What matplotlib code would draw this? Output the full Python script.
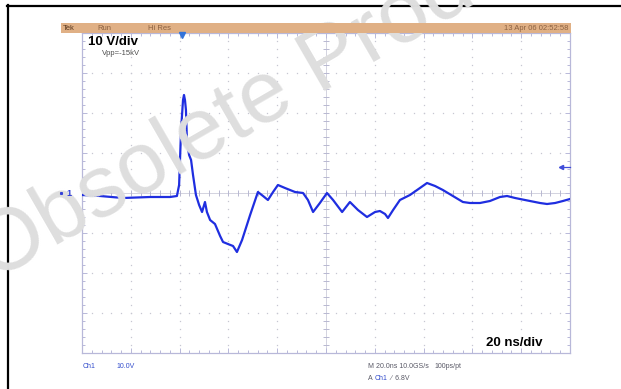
import numpy as np
import matplotlib
matplotlib.use("Agg")
import matplotlib.pyplot as plt
from matplotlib.ticker import MultipleLocator
from matplotlib.lines import Line2D
from matplotlib.patches import Rectangle

# ---- data ----
time_ns = [-100, -92.6, -83.2, -72.1, -63.9, -61.1, -60.2, -59.4, -58.6, -58.2,
           -57.8, -57.4, -57.0, -56.6, -56.1, -55.3, -54.5, -53.3, -52.0, -50.8,
           -49.6, -48.8, -47.5, -45.5, -43.4, -42.2, -40.2, -38.1, -36.5, -34.4,
           -31.1, -27.9, -25.8, -23.8, -21.7, -19.7, -16.8, -12.7, -9.4, -7.4,
           -5.3, -2.5, 0.4, 2.9, 6.6, 9.8, 13.1, 16.8, 20.1, 22.1,
           24.2, 25.4, 27.5, 30.3, 34.4, 38.5, 41.4, 44.7, 47.9, 52.0,
           56.1, 59.0, 63.1, 67.2, 71.3, 74.2, 77.5, 79.5, 83.6, 87.7,
           90.6, 93.9, 97.1, 100]
volts = [-0.5, -0.75, -1.25, -1.0, -1.0, -0.75, 2.0, 15.75, 23.25, 24.5,
         23.25, 20.75, 13.25, 11.25, 9.5, 8.25, 4.5, -0.5, -3.0, -4.75,
         -2.25, -4.75, -6.75, -7.75, -10.75, -12.25, -12.75, -13.25, -14.75, -11.75,
         -5.5, 0.25, -0.75, -1.75, 0.25, 2.0, 1.25, 0.25, 0.0, -1.75,
         -4.75, -2.5, 0.0, -1.75, -4.75, -2.25, -4.25, -6.0, -4.75, -4.5,
         -5.25, -6.25, -4.25, -1.75, -0.5, 1.25, 2.5, 1.75, 0.75, -0.75,
         -2.25, -2.5, -2.5, -2.0, -1.0, -0.75, -1.25, -1.5, -2.0, -2.5,
         -2.75, -2.5, -2.0, -1.5]

header_left = ["Tek", "Run", "Hi Res"]
header_date = "13 Apr 06 02:52:58"
vdiv_label = "10 V/div"
vpp_label = "Vpp=-15kV"
tdiv_label = "20 ns/div"
watermark = "Obsolete Product(s)"

# ---- figure ----
W, H = 621, 389
fig = plt.figure(figsize=(W / 100, H / 100), dpi=100)
fig.patch.set_facecolor("white")
FONT = "Liberation Sans"


def fx(px):
    return px / W


def fy(py):
    return 1 - py / H


# plot area: x 82..570, y 33..353 (pixels)
ax = fig.add_axes([fx(82), fy(353), (570 - 82) / W, (353 - 33) / H])
ax.set_xlim(-100, 100)
ax.set_ylim(-40, 40)
ax.set_facecolor("none")

frame_col = (0.72, 0.72, 0.85)
grid_col = (0.78, 0.78, 0.82)
for s in ax.spines.values():
    s.set_color(frame_col)
    s.set_linewidth(0.9)

ax.xaxis.set_major_locator(MultipleLocator(20))
ax.xaxis.set_minor_locator(MultipleLocator(4))
ax.yaxis.set_major_locator(MultipleLocator(10))
ax.yaxis.set_minor_locator(MultipleLocator(2))
ax.tick_params(which="both", direction="in", top=True, right=True,
               bottom=True, left=True, labelbottom=False, labelleft=False,
               color=frame_col, width=0.7)
ax.tick_params(which="major", length=3.5)
ax.tick_params(which="minor", length=2.5)

# dotted graticule
ygrid = np.arange(-40, 40.1, 2)
xgrid = np.arange(-100, 100.1, 4)
for k in range(-4, 5):
    if k == 0:
        continue
    ax.plot(np.full_like(ygrid, k * 20.0), ygrid, ls="none", marker="s",
            ms=0.9, mew=0, color=grid_col, zorder=1)
for k in range(-3, 4):
    if k == 0:
        continue
    ax.plot(xgrid, np.full_like(xgrid, k * 10.0), ls="none", marker="s",
            ms=0.9, mew=0, color=grid_col, zorder=1)

# centre cross-hair with ticks
ax.axvline(0, color=(0.80, 0.80, 0.86), lw=0.6, zorder=1)
ax.axhline(0, color=(0.80, 0.80, 0.86), lw=0.6, zorder=1)
ax.plot(np.zeros_like(ygrid), ygrid, ls="none", marker="_", ms=4.5, mew=0.7,
        color=(0.72, 0.72, 0.82), zorder=1)
ax.plot(xgrid, np.zeros_like(xgrid), ls="none", marker="|", ms=4.5, mew=0.7,
        color=(0.72, 0.72, 0.82), zorder=1)

# watermark (behind the trace)
fig.text(fx(-6), fy(281), watermark, rotation=30, rotation_mode="anchor",
         ha="left", va="baseline", fontsize=63, family=FONT,
         color=(0.87, 0.87, 0.87), zorder=2)

# trace
ax.plot(time_ns, volts, color=(0.12, 0.18, 0.88), lw=1.6, zorder=5,
        solid_joinstyle="round")

# header band
fig.patches.append(Rectangle((fx(61), fy(33)), (571 - 61) / W, 10 / H,
                             transform=fig.transFigure,
                             facecolor=(0.88, 0.69, 0.52), edgecolor="none",
                             zorder=3))
hx = [63, 97, 148]
hcols = [(0.35, 0.22, 0.12), (0.55, 0.38, 0.25), (0.55, 0.38, 0.25)]
for t, x, c in zip(header_left, hx, hcols):
    fig.text(fx(x), fy(28), t, fontsize=5.5, family=FONT, color=c,
             va="center", ha="left", zorder=4)
fig.text(fx(568), fy(28), header_date, fontsize=5.5, family=FONT,
         color=(0.55, 0.38, 0.25), va="center", ha="right", zorder=4)

# trigger position marker
fig.add_artist(Line2D([fx(181.5)], [fy(35)], marker="v", ms=5,
                      color=(0.2, 0.45, 0.85), ls="none", zorder=6))
# trigger level arrow on right
fig.add_artist(Line2D([fx(561), fx(570)], [fy(167), fy(167)],
                      color=(0.25, 0.3, 0.85), lw=0.9, zorder=6))
fig.add_artist(Line2D([fx(561)], [fy(167)], marker="<", ms=3,
                      color=(0.25, 0.3, 0.85), ls="none", zorder=6))
# ground marker on left
fig.add_artist(Line2D([fx(61)], [fy(193)], marker="s", ms=1.2,
                      color=(0.2, 0.25, 0.85), ls="none", zorder=6))
fig.text(fx(66), fy(193), "1", fontsize=6.5, family=FONT, weight="bold",
         color=(0.2, 0.25, 0.85), va="center", ha="left", zorder=6)

# in-graticule labels
fig.text(fx(88), fy(42), vdiv_label, fontsize=9.5, family=FONT,
         weight="bold", color="black", va="center", ha="left", zorder=7)
fig.text(fx(102), fy(53.5), vpp_label, fontsize=5.5, family=FONT,
         color=(0.3, 0.3, 0.3), va="center", ha="left", zorder=7)
fig.text(fx(486), fy(343), tdiv_label, fontsize=9.5, family=FONT,
         weight="bold", color="black", va="center", ha="left", zorder=7)

# bottom status lines
blue = (0.2, 0.3, 0.8)
grey = (0.35, 0.35, 0.4)
fs = 5.0
fig.text(fx(83), fy(367), "Ch1", fontsize=fs, family=FONT, color=blue,
         va="center", ha="left")
fig.text(fx(116), fy(367), "10.0V", fontsize=fs, family=FONT, color=blue,
         va="center", ha="left")
fig.text(fx(368), fy(367), "M 20.0ns 10.0GS/s", fontsize=fs, family=FONT,
         color=grey, va="center", ha="left")
fig.text(fx(434), fy(367), "100ps/pt", fontsize=fs, family=FONT,
         color=grey, va="center", ha="left")
fig.text(fx(368), fy(378), "A", fontsize=fs, family=FONT, color=grey,
         va="center", ha="left")
fig.text(fx(375), fy(378), "Ch1", fontsize=fs, family=FONT, color=blue,
         va="center", ha="left")
fig.text(fx(390), fy(378), "\u2215  6.8V", fontsize=fs, family=FONT,
         color=grey, va="center", ha="left")

# outer black frame lines
fig.add_artist(Line2D([fx(7), 1], [fy(5.5), fy(5.5)], color="black", lw=1.6))
fig.add_artist(Line2D([fx(7.5), fx(7.5)], [fy(5), 0], color="black", lw=1.6))

fig.savefig("out.png", dpi=100)
